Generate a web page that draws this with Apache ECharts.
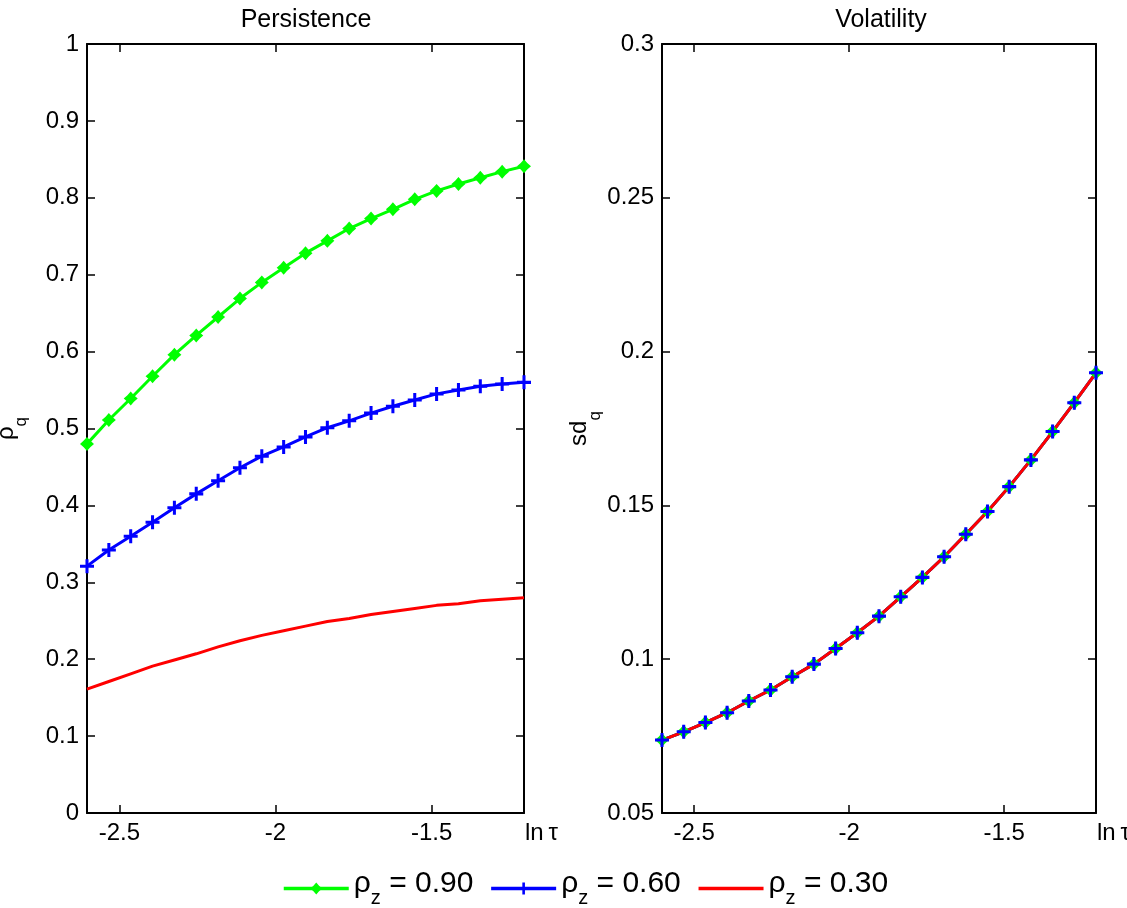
<!DOCTYPE html>
<html>
<head>
<meta charset="utf-8">
<script src="https://cdn.jsdelivr.net/npm/echarts@6/dist/echarts.min.js"></script>
<style>
html,body{margin:0;padding:0;background:#fff;}
#c{width:1127px;height:908px;}
</style>
</head>
<body>
<div id="c"></div>
<script>
// ---- data ----
const lnTau = [-2.604, -2.534, -2.464, -2.394, -2.324, -2.254, -2.184, -2.114, -2.044, -1.974, -1.904,
               -1.834, -1.764, -1.694, -1.624, -1.554, -1.484, -1.414, -1.344, -1.274, -1.204];
const xTicks = [-2.5, -2, -1.5];
const persist90 = [0.480, 0.511, 0.539, 0.568, 0.596, 0.621, 0.645, 0.669, 0.690, 0.709, 0.728,
                   0.744, 0.760, 0.773, 0.785, 0.798, 0.809, 0.818, 0.826, 0.834, 0.841];
const persist60 = [0.321, 0.342, 0.360, 0.378, 0.397, 0.415, 0.432, 0.449, 0.464, 0.476, 0.489,
                   0.501, 0.510, 0.520, 0.529, 0.537, 0.545, 0.550, 0.555, 0.558, 0.560];
const persist30 = [0.161, 0.171, 0.181, 0.191, 0.199, 0.207, 0.216, 0.224, 0.231, 0.237, 0.243,
                   0.249, 0.253, 0.258, 0.262, 0.266, 0.270, 0.272, 0.276, 0.278, 0.280];
const vol90 = [0.0737, 0.0764, 0.0794, 0.0826, 0.0864, 0.0900, 0.0943, 0.0984, 0.1035, 0.1086, 0.1140,
               0.1203, 0.1266, 0.1333, 0.1406, 0.1480, 0.1561, 0.1648, 0.1740, 0.1834, 0.1931];
const vol60 = [0.0737, 0.0764, 0.0794, 0.0826, 0.0864, 0.0900, 0.0943, 0.0984, 0.1035, 0.1086, 0.1140,
               0.1203, 0.1266, 0.1333, 0.1406, 0.1480, 0.1561, 0.1648, 0.1740, 0.1834, 0.1931];
const vol30 = [0.0737, 0.0764, 0.0794, 0.0826, 0.0864, 0.0900, 0.0943, 0.0984, 0.1035, 0.1086, 0.1140,
               0.1203, 0.1266, 0.1333, 0.1406, 0.1480, 0.1561, 0.1648, 0.1740, 0.1834, 0.1931];
const seriesNames = ['0.90', '0.60', '0.30'];
const titles = ['Persistence', 'Volatility'];

// ---- chart ----
const FONT = 'Liberation Sans, Arial, sans-serif';
const GREEN = '#00ff00', BLUE = '#0000ff', RED = '#ff0000';
const starSym = 'path://M0,-6L2.8,-2.8L6,0L2.8,2.8L0,6L-2.8,2.8L-6,0L-2.8,-2.8Z';
const plusSym = 'path://M-1.3,-6H1.3V-1.3H6V1.3H1.3V6H-1.3V1.3H-6V-1.3H-1.3Z';

const X0 = lnTau[0], X1 = lnTau[lnTau.length - 1];
const lineAx = {show: true, onZero: false, lineStyle: {color: '#000', width: 2}};
const tickIn = {show: true, inside: true, length: 8, lineStyle: {color: '#000', width: 1.5}};

function xAx(grid, pos, withLabel) {
  return {
    type: 'value', gridIndex: grid, position: pos, min: X0, max: X1,
    axisLine: lineAx,
    axisTick: Object.assign({customValues: xTicks}, tickIn),
    axisLabel: withLabel ? {customValues: xTicks, color: '#000', fontSize: 24, fontFamily: FONT, margin: 8,
                            formatter: v => String(v)} : {show: false},
    splitLine: {show: false},
    name: withLabel ? 'ln\u2009τ' : '',
    nameLocation: 'end', nameGap: 1,
    nameTextStyle: {color: '#000', fontSize: 24, fontFamily: FONT, verticalAlign: 'top', padding: [8, 0, 0, 0]}
  };
}
function yAx(grid, pos, withLabel, mn, mx, step, nm, gap) {
  return {
    type: 'value', gridIndex: grid, position: pos, min: mn, max: mx, interval: step,
    axisLine: lineAx, axisTick: tickIn,
    axisLabel: withLabel ? {color: '#000', fontSize: 24, fontFamily: FONT, margin: 8} : {show: false},
    splitLine: {show: false},
    name: withLabel ? nm : '', nameLocation: 'middle', nameRotate: 90, nameGap: gap,
    nameTextStyle: {color: '#000', fontFamily: FONT,
      rich: {a: {fontSize: 24, fontFamily: FONT, color: '#000', lineHeight: 26, verticalAlign: 'top'},
             s: {fontSize: 17, fontFamily: FONT, color: '#000', lineHeight: 36, verticalAlign: 'bottom'}}}
  };
}
function legendName(v) { return 'ρz = ' + v; }
function pts(ys) { return ys.map((y, i) => [lnTau[i], y]); }

function mkSeries(nameIdx, xi, yi, ys, color, sym, sz) {
  return {
    type: 'line', name: legendName(seriesNames[nameIdx]), xAxisIndex: xi, yAxisIndex: yi,
    data: pts(ys), symbol: sym, symbolSize: sz, showSymbol: sym !== 'none',
    lineStyle: {color: color, width: 3}, itemStyle: {color: color},
    animation: false, silent: true
  };
}

const option = {
  backgroundColor: '#fff',
  animation: false,
  title: [
    {text: titles[0], left: 301, top: 3, textAlign: 'center',
     textStyle: {fontSize: 25, fontWeight: 'normal', color: '#000', fontFamily: FONT}},
    {text: titles[1], left: 876, top: 3, textAlign: 'center',
     textStyle: {fontSize: 25, fontWeight: 'normal', color: '#000', fontFamily: FONT}}
  ],
  grid: [
    {left: 87, top: 44, width: 437, height: 769, outerBoundsMode: 'none', containLabel: false},
    {left: 662, top: 44, width: 434, height: 769, outerBoundsMode: 'none', containLabel: false}
  ],
  xAxis: [xAx(0, 'bottom', true), xAx(0, 'top', false), xAx(1, 'bottom', true), xAx(1, 'top', false)],
  yAxis: [
    yAx(0, 'left', true, 0, 1, 0.1, '{a|ρ}{s|q}', 57),
    yAx(0, 'right', false, 0, 1, 0.1, '', 0),
    yAx(1, 'left', true, 0.05, 0.3, 0.05, '{a|sd}{s|q}', 33),
    yAx(1, 'right', false, 0.05, 0.3, 0.05, '', 0)
  ],
  legend: {
    left: 277, top: 864, itemWidth: 65, itemHeight: 15, itemGap: 16,
    lineStyle: {width: 3.5},
    data: seriesNames.map((v, i) => i === 2
      ? {name: legendName(v), itemStyle: {opacity: 0}, lineStyle: {width: 3.5}}
      : {name: legendName(v), lineStyle: {width: 3.5}}),
    formatter: n => '{a|ρ}{s|z}{a| = ' + n.split('= ')[1] + '}',
    textStyle: {fontFamily: FONT, color: '#000',
      rich: {a: {fontSize: 30, fontFamily: FONT, color: '#000', lineHeight: 32, verticalAlign: 'top'},
             s: {fontSize: 20, fontFamily: FONT, color: '#000', lineHeight: 39, verticalAlign: 'bottom'}}}
  },
  series: [
    mkSeries(0, 0, 0, persist90, GREEN, starSym, 14),
    mkSeries(1, 0, 0, persist60, BLUE, plusSym, 14),
    mkSeries(2, 0, 0, persist30, RED, 'none', 0),
    mkSeries(0, 2, 2, vol90, GREEN, starSym, 14),
    mkSeries(1, 2, 2, vol60, BLUE, plusSym, 14),
    mkSeries(2, 2, 2, vol30, RED, 'none', 0)
  ]
};
const chart = echarts.init(document.getElementById('c'), null, {renderer: 'canvas'});
chart.setOption(option);
</script>
</body>
</html>
